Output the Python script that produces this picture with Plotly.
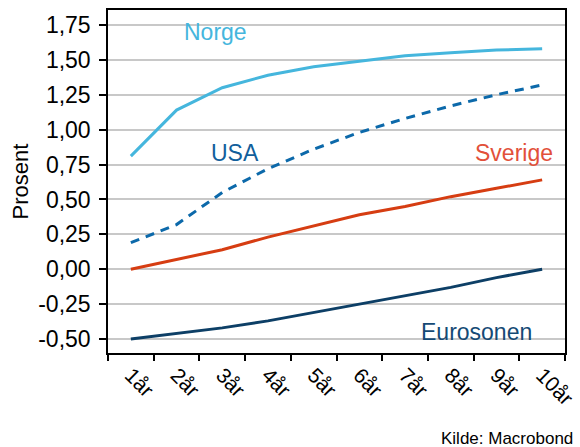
import plotly.graph_objects as go

categories = ["1år", "2år", "3år", "4år", "5år", "6år", "7år", "8år", "9år", "10år"]
norge = [0.81, 1.14, 1.30, 1.39, 1.45, 1.49, 1.53, 1.55, 1.57, 1.58]
usa = [0.19, 0.32, 0.55, 0.72, 0.86, 0.98, 1.08, 1.17, 1.25, 1.32]
sverige = [0.00, 0.07, 0.14, 0.23, 0.31, 0.39, 0.45, 0.52, 0.58, 0.64]
eurosonen = [-0.50, -0.46, -0.42, -0.37, -0.31, -0.25, -0.19, -0.13, -0.06, 0.00]
y_ticks = [-0.5, -0.25, 0, 0.25, 0.5, 0.75, 1.0, 1.25, 1.5, 1.75]
y_ticktext = ["-0,50", "-0,25", "0,00", "0,25", "0,50", "0,75", "1,00", "1,25", "1,50", "1,75"]

FONT = "Liberation Sans, Arial, sans-serif"

fig = go.Figure()
fig.add_trace(go.Scatter(x=categories, y=norge, mode="lines", name="Norge",
                         line=dict(color="#45b6dd", width=3)))
fig.add_trace(go.Scatter(x=categories, y=usa, mode="lines", name="USA",
                         line=dict(color="#0c69aa", width=3, dash="9px,7px")))
fig.add_trace(go.Scatter(x=categories, y=sverige, mode="lines", name="Sverige",
                         line=dict(color="#d63d12", width=3)))
fig.add_trace(go.Scatter(x=categories, y=eurosonen, mode="lines", name="Eurosonen",
                         line=dict(color="#0d3f66", width=3)))

ann = [
    ("Norge", 1.86, 1.70, "#45b6dd"),
    ("USA", 2.28, 0.83, "#125f9c"),
    ("Sverige", 8.38, 0.83, "#e2503a"),
    ("Eurosonen", 7.56, -0.45, "#154a75"),
]
for txt, x, y, c in ann:
    fig.add_annotation(x=x, y=y, xref="x", yref="y", text=txt, showarrow=False,
                       font=dict(family=FONT, size=23, color=c))

fig.add_annotation(x=1, y=0, xref="paper", yref="paper", yshift=-85, xshift=10,
                   xanchor="right", yanchor="middle", text="Kilde: Macrobond",
                   showarrow=False, font=dict(family=FONT, size=17, color="#000"))

fig.add_annotation(x=0, y=0.5, xref="paper", yref="paper", xshift=-88,
                   xanchor="center", yanchor="middle", text="Prosent", textangle=-90,
                   showarrow=False, font=dict(family=FONT, size=22, color="#000"))

fig.update_layout(
    width=580, height=447,
    margin=dict(l=108, r=15, t=10, b=94),
    paper_bgcolor="white", plot_bgcolor="white",
    showlegend=False,
    font=dict(family=FONT, size=22, color="#000"),
    xaxis=dict(type="category", range=[-0.5, 9.5], tickson="boundaries",
               ticks="outside", ticklen=6, tickwidth=1.5, tickcolor="#000",
               tickangle=45, showgrid=False, showline=True, linecolor="#000",
               linewidth=1.5, mirror=True, tickfont=dict(size=21),
               automargin=False),
    yaxis=dict(range=[-0.6, 1.857], tickvals=y_ticks, ticktext=y_ticktext,
               ticks="outside", ticklen=7, tickwidth=1.5, tickcolor="#000",
               showgrid=True, gridcolor="#c8c8c8", gridwidth=1.5,
               zeroline=False, showline=True, linecolor="#000", linewidth=1.5,
               mirror=True, automargin=False, tickfont=dict(size=23),
               ticklabelstandoff=4),
)

fig.write_html("out.html", config={"displayModeBar": False},
               post_script="document.body.style.margin='0';document.body.style.overflow='hidden';")
